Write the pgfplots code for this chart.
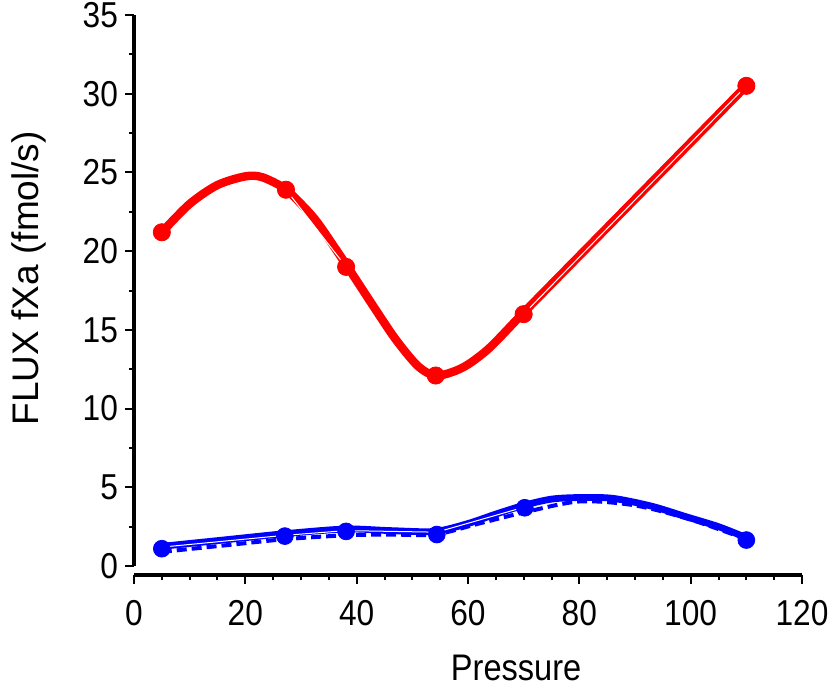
\documentclass[border=0pt]{standalone}
\usepackage{fontspec}
\setmainfont{Liberation Sans}[FakeStretch=0.88]
\newfontfamily\ylabelfont{Liberation Sans}
\usepackage{pgfplots}
\pgfplotsset{compat=1.18}

\begin{document}
\begin{tikzpicture}
\begin{axis}[
    scale only axis,
    width=334pt, height=280pt,
    xmin=0, xmax=120,
    ymin=-0.57, ymax=35,
    axis x line*=bottom,
    axis y line*=left,
    x axis line style={-, line width=2pt},
    y axis line style={draw=none},
    tick align=outside,
    xtick={0,20,...,120}, minor x tick num=3,
    ytick={0,5,...,35}, minor y tick num=1,
    major tick length=4.5pt, minor tick length=2.5pt,
    every tick/.style={black, line width=1pt},
    tick label style={font=\fontsize{18pt}{21pt}\selectfont},
    xticklabel style={yshift=-4.5pt},
    /pgf/number format/assume math mode=true,
    xlabel={Pressure},
    ylabel={FLUX fXa (fmol/s)},
    every axis x label/.style={at={(rel axis cs:0.572,-0.166)}, anchor=center,
        font=\fontsize{18.5pt}{21pt}\selectfont},
    every axis y label/.style={at={(rel axis cs:-0.157,0.53)}, rotate=90, anchor=center,
        font=\fontsize{18.5pt}{21pt}\ylabelfont},
    clip=false,
]
\draw[line width=2pt] (axis cs:0,0) -- (axis cs:0,35);

% red: fitted curve
\addplot[red, line width=4.2pt, smooth, no marks] coordinates {
 (5,21.2) (10,23.0) (15,24.2) (20,24.75) (23,24.7) (27,24.0) (30,23.0)
 (33,21.8) (38,19.2) (43,16.5) (47,14.4) (51,12.7) (54,12.1) (57,12.3)
 (60,12.8) (64,13.9) (70,16.1) (80,19.7) (90,23.3) (100,26.9) (110,30.5)
};
% red: measured (thin white core where it runs inside the curve)
\addplot[white, line width=0.5pt, no marks] coordinates {
 (27.3,23.9) (38.1,19.0)
};
\addplot[white, line width=0.5pt, no marks] coordinates {
 (70,16.0) (110,30.5)
};
\addplot[red, only marks, mark=*, mark size=4.3pt] coordinates {
 (5,21.2) (27.3,23.9) (38.1,19.0) (54.2,12.1) (70,16.0) (110,30.5)
};

% blue: second fit, dashed
\addplot[blue, line width=2pt, dash pattern=on 5pt off 2.5pt, smooth, no marks] coordinates {
 (5,0.9) (16,1.3) (27,1.7) (38,1.95) (46,2.0) (54,2.0) (62,2.7) (70,3.4)
 (80,4.1) (90,3.85) (100,2.95) (110,1.7)
};
% blue: fitted curve
\addplot[blue, line width=3.4pt, smooth, no marks] coordinates {
 (5,1.25) (16,1.65) (27,2.05) (38,2.35) (46,2.25) (54,2.2) (60,2.7)
 (65,3.3) (70,3.85) (75,4.25) (80,4.35) (86,4.3) (93,3.8) (99,3.15)
 (105,2.5) (110,1.8)
};
% blue: measured
\addplot[white, line width=0.5pt, no marks] coordinates {
 (5,1.2) (27.1,1.95) (38.1,2.25) (54.4,2.15) (70.2,3.75)
};
\addplot[blue, only marks, mark=*, mark size=4.2pt] coordinates {
 (5,1.1) (27.1,1.9) (38.1,2.2) (54.4,2.0) (70.2,3.7) (110,1.65)
};

\coordinate (sw) at (rel axis cs:0,0);
\end{axis}
\pgfresetboundingbox
\path ([shift={(-67pt,-57.5pt)}]sw) rectangle ([shift={(350.5pt,287.5pt)}]sw);
\end{tikzpicture}
\end{document}
